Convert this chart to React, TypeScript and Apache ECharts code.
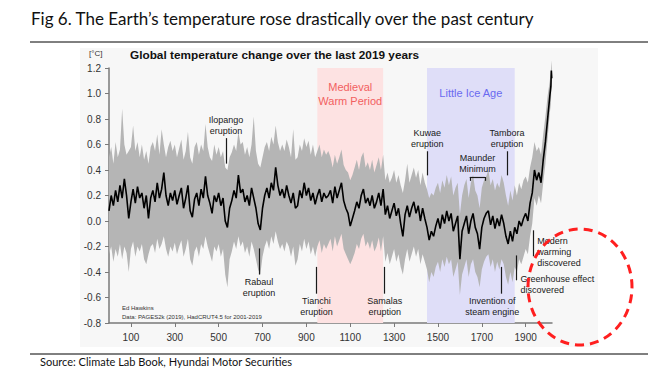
import React, { useEffect, useRef } from "react";
import * as echarts from "echarts";

// ---- data (10-year steps from year 0 to 2010, then a few final years) ----
const START_YEAR = 0;
const STEP = 10;

const median = [
  0.08, 0.2, 0.12, 0.24, 0.15, 0.28, 0.18, 0.33, 0.2, 0.02,
  0.15, 0.25, 0.14, 0.27, 0.18, 0.22, 0.1, 0.2, 0.02, 0.18,
  0.24, 0.15, 0.3, 0.18, 0.25, 0.38, 0.2, 0.12, 0.22, 0.16,
  0.24, 0.13, 0.2, 0.26, 0.1, 0.18, 0.28, 0.08, 0.03, 0.17,
  0.22, 0.12, 0.25, 0.18, 0.35, 0.2, 0.14, 0.06, 0.2, 0.15,
  0.22, 0.12, 0.18, 0.0, -0.05, 0.1, 0.16, 0.24, 0.18, 0.36,
  0.22, 0.25, 0.15, 0.2, 0.12, 0.26, 0.18, 0.1, -0.02, -0.07,
  0.1, 0.2, 0.26, 0.18, 0.3, 0.24, 0.42, 0.28, 0.2, 0.25,
  0.18, 0.28, 0.2, 0.14, 0.22, 0.1, 0.12, 0.24, 0.18, 0.3,
  0.2, 0.26, 0.16, 0.22, 0.13, 0.2, 0.25, 0.15, 0.22, 0.18,
  0.2, 0.24, 0.14, 0.27, 0.18, 0.24, 0.3, 0.16, 0.1, 0.06,
  -0.04, 0.02, 0.08, 0.15, 0.1, 0.2, 0.25, 0.14, 0.18, 0.12,
  0.2, 0.1, 0.15, 0.22, 0.12, 0.25, 0.05, 0.12, 0.02, 0.08,
  0.14, 0.04, 0.1, -0.02, -0.12, 0.05, 0.12, 0.03, 0.1, 0.15,
  0.06, 0.12, 0.0, 0.1, 0.02, -0.05, -0.15, -0.08, -0.12, -0.04,
  0.02, -0.06, 0.05, -0.02, 0.08, 0.0, 0.06, -0.08, -0.02, 0.04,
  -0.3, -0.08, -0.02, 0.04, -0.1, 0.0, 0.06, -0.05, -0.1, -0.22,
  -0.05, 0.02, 0.06, 0.08, -0.03, 0.04, -0.06, 0.02, -0.04, 0.05,
  -0.02, -0.12, -0.18, -0.08, -0.16, -0.05, -0.1, 0.0, -0.04, 0.02,
  0.06, 0.0, 0.14, 0.22, 0.4, 0.32, 0.38, 0.3, 0.48, 0.62, 0.8, 0.98,
];

const upper = [
  0.5, 0.58, 0.45, 0.62, 0.5, 0.56, 0.88, 0.6, 0.52, 0.55,
  0.58, 0.75, 0.55, 0.62, 0.5, 0.6, 0.48, 0.55, 0.45, 0.58,
  0.62, 0.55, 0.68, 0.52, 0.72, 0.6, 0.5, 0.58, 0.63, 0.55,
  0.6, 0.5, 0.57, 0.64, 0.48, 0.55, 0.7, 0.5, 0.45, 0.58,
  0.62, 0.52, 0.6, 0.55, 0.76, 0.58, 0.5, 0.47, 0.6, 0.52,
  0.58, 0.5, 0.55, 0.42, 0.4, 0.5, 0.54, 0.6, 0.55, 0.7,
  0.6, 0.62, 0.52, 0.58, 0.5, 0.6, 0.82, 0.55, 0.45, 0.42,
  0.5, 0.58, 0.62, 0.55, 0.66, 0.6, 0.75, 0.62, 0.55, 0.6,
  0.55, 0.64, 0.58, 0.5, 0.72, 0.48, 0.5, 0.6, 0.55, 0.65,
  0.58, 0.63, 0.52, 0.6, 0.5, 0.55, 0.6, 0.5, 0.56, 0.52,
  0.55, 0.5, 0.42, 0.52, 0.45, 0.5, 0.56, 0.44, 0.4, 0.38,
  0.32, 0.36, 0.42, 0.48, 0.4, 0.5, 0.54, 0.42, 0.46, 0.4,
  0.48, 0.38, 0.44, 0.5, 0.4, 0.52, 0.32, 0.38, 0.3, 0.34,
  0.4, 0.3, 0.36, 0.28, 0.22, 0.32, 0.45, 0.3, 0.36, 0.42,
  0.34, 0.4, 0.28, 0.38, 0.3, 0.25, 0.18, 0.22, 0.2, 0.26,
  0.3, 0.22, 0.32, 0.26, 0.36, 0.28, 0.35, 0.2, 0.26, 0.3,
  0.05, 0.2, 0.28, 0.33, 0.18, 0.3, 0.36, 0.24, 0.2, 0.1,
  0.26, 0.32, 0.35, 0.4, 0.28, 0.33, 0.24, 0.3, 0.26, 0.36,
  0.3, 0.2, 0.12, 0.24, 0.16, 0.28, 0.2, 0.3, 0.25, 0.32,
  0.35, 0.3, 0.42, 0.5, 0.62, 0.55, 0.58, 0.52, 0.68, 0.82, 0.98, 1.1,
];

const lower = [
  -0.26, -0.2, -0.32, -0.22, -0.28, -0.18, -0.3, -0.2, -0.25, -0.4,
  -0.22, -0.16, -0.28, -0.2, -0.24, -0.18, -0.3, -0.34, -0.26, -0.2,
  -0.18, -0.25, -0.14, -0.22, -0.18, -0.12, -0.22, -0.28, -0.2, -0.24,
  -0.17, -0.26, -0.2, -0.15, -0.28, -0.22, -0.14, -0.3, -0.35, -0.24,
  -0.2, -0.28, -0.18, -0.22, -0.12, -0.2, -0.26, -0.32, -0.2, -0.24,
  -0.18, -0.28, -0.22, -0.42, -0.52, -0.3, -0.24, -0.16, -0.22, -0.12,
  -0.2, -0.16, -0.25, -0.2, -0.28, -0.16, -0.22, -0.3, -0.38, -0.42,
  -0.28, -0.2, -0.15, -0.22, -0.12, -0.18, -0.08, -0.16, -0.22, -0.18,
  -0.24, -0.16, -0.2, -0.28, -0.2, -0.35, -0.3, -0.18, -0.24, -0.14,
  -0.22, -0.16, -0.26, -0.2, -0.28, -0.2, -0.15, -0.25, -0.18, -0.22,
  -0.18, -0.14, -0.24, -0.12, -0.2, -0.15, -0.1, -0.22, -0.26, -0.3,
  -0.34, -0.3, -0.25, -0.18, -0.22, -0.14, -0.1, -0.2, -0.16, -0.22,
  -0.15, -0.24, -0.2, -0.13, -0.24, -0.12, -0.32, -0.25, -0.34, -0.28,
  -0.22, -0.32, -0.26, -0.36, -0.42, -0.3, -0.22, -0.32, -0.26, -0.2,
  -0.28, -0.22, -0.34, -0.26, -0.32, -0.38, -0.48, -0.4, -0.44, -0.36,
  -0.32, -0.4, -0.3, -0.36, -0.28, -0.34, -0.3, -0.44, -0.38, -0.32,
  -0.58, -0.42, -0.36, -0.3, -0.44, -0.34, -0.3, -0.4, -0.44, -0.52,
  -0.38, -0.32, -0.28, -0.26, -0.36, -0.3, -0.4, -0.32, -0.38, -0.3,
  -0.34, -0.44, -0.5, -0.4, -0.48, -0.36, -0.4, -0.3, -0.34, -0.28,
  -0.22, -0.26, -0.12, -0.02, 0.18, 0.12, 0.2, 0.14, 0.3, 0.45, 0.65, 0.85,
];

const tailYears = [2015, 2017, 2019];
const tailMedian = [1.06, 1.18, 1.12];
const tailUpper = [1.18, 1.26, 1.2];
const tailLower = [0.92, 1.05, 1.0];

const xTickValues = [100, 300, 500, 700, 900, 1100, 1300, 1500, 1700, 1900];
const yTickValues = [-0.8, -0.6, -0.4, -0.2, 0.0, 0.2, 0.4, 0.6, 0.8, 1.0, 1.2];

const periodNames = ["Medieval\nWarm Period", "Little Ice Age"];
const periodFrom = [950, 1450];
const periodTo = [1250, 1850];

// vertical event markers: year, top value, bottom value
const eventYears = [535, 684, 946, 1257, 1453, 1815, 1789, 1859, 1935];
const eventTop = [0.65, -0.215, -0.36, -0.36, 0.547, 0.547, -0.36, -0.27, -0.073];
const eventBottom = [0.45, -0.42, -0.57, -0.57, 0.358, 0.358, -0.57, -0.465, -0.277];

// event labels: text, anchor year, anchor value, placement
const labelTexts = [
  "Ilopango\neruption",
  "Rabaul\neruption",
  "Tianchi\neruption",
  "Samalas\neruption",
  "Kuwae\neruption",
  "Tambora\neruption",
  "Maunder\nMinimum",
  "Invention of\nsteam engine",
  "Greenhouse effect\ndiscovered",
  "Modern\nwarming\ndiscovered",
];
const labelYears = [534, 684, 946, 1257, 1451, 1815, 1680, 1748, 1874, 1950];
const labelValues = [0.748, -0.52, -0.67, -0.67, 0.65, 0.65, 0.45, -0.67, -0.5, -0.243];
const labelLeftAligned = [false, false, false, false, false, false, false, false, true, true];

// Maunder Minimum bracket
const maunderFrom = 1645;
const maunderTo = 1715;
const maunderTop = 0.345;
const maunderFoot = 0.315;

export default function App() {
  const ref = useRef<HTMLDivElement>(null);

  useEffect(() => {
    if (!ref.current) return;
    const chart = echarts.init(ref.current, undefined, { renderer: "svg" });

    const years: number[] = median.map((_, i) => START_YEAR + i * STEP).concat(tailYears);
    const medAll = median.concat(tailMedian);
    const upAll = upper.concat(tailUpper);
    const loAll = lower.concat(tailLower);
    const linePoints = years.map((y, i) => [y, medAll[i]]);

    const chartFont = "Liberation Sans";

    const markLines: any[] = eventYears.map((y, i) => [
      { coord: [y, eventTop[i]] },
      { coord: [y, eventBottom[i]] },
    ]);
    markLines.push(
      [{ coord: [maunderFrom, maunderTop] }, { coord: [maunderTo, maunderTop] }],
      [{ coord: [maunderFrom, maunderTop] }, { coord: [maunderFrom, maunderFoot] }],
      [{ coord: [maunderTo, maunderTop] }, { coord: [maunderTo, maunderFoot] }]
    );

    const markPoints = labelTexts.map((t, i) => ({
      coord: [labelYears[i], labelValues[i]],
      symbol: "circle",
      symbolSize: 1,
      itemStyle: { color: "rgba(0,0,0,0)" },
      label: {
        show: true,
        formatter: t,
        position: labelLeftAligned[i] ? "right" : "inside",
        distance: 0,
        align: labelLeftAligned[i] ? "left" : "center",
        color: "#1a1a1a",
        fontSize: 9,
        lineHeight: 11,
        fontFamily: chartFont,
      },
    }));

    const periodColors = ["#fde2e2", "#dfdef8"];
    const periodTextColors = ["#f26060", "#6a6af0"];
    const periodDist = [12, 18];
    const markAreas = periodNames.map((n, i) => [
      {
        xAxis: periodFrom[i],
        yAxis: 1.2,
        itemStyle: { color: periodColors[i] },
        label: {
          show: true,
          formatter: n,
          position: "insideTop",
          distance: periodDist[i],
          color: periodTextColors[i],
          fontSize: 11,
          lineHeight: 14,
          fontFamily: chartFont,
        },
      },
      { xAxis: periodTo[i], yAxis: -0.8 },
    ]);

    chart.setOption({
      animation: false,
      grid: { left: 109, right: 112, top: 68, bottom: 54 },
      xAxis: {
        type: "value",
        min: 0,
        max: 2020,
        splitLine: { show: false },
        axisLine: { show: true, onZero: false, lineStyle: { color: "#7a7a7a", width: 1.5 } },
        axisTick: { show: true, customValues: xTickValues, length: 4, lineStyle: { color: "#7a7a7a" } },
        axisLabel: {
          customValues: xTickValues,
          color: "#333",
          fontSize: 10,
          fontFamily: chartFont,
          margin: 9,
          formatter: (v: number) => String(v),
        },
      },
      yAxis: {
        type: "value",
        min: -0.8,
        max: 1.2,
        interval: 0.2,
        splitLine: { show: false },
        axisLine: { show: true, onZero: false, lineStyle: { color: "#7a7a7a", width: 1.5 } },
        axisTick: { show: true, length: 4, lineStyle: { color: "#7a7a7a" } },
        axisLabel: {
          color: "#333",
          fontSize: 10,
          fontFamily: chartFont,
          margin: 8,
          formatter: (v: number) => {
            const near = yTickValues.find((t) => Math.abs(t - v) < 1e-6);
            return near === undefined ? "" : near.toFixed(1);
          },
        },
      },
      graphic: [
        {
          type: "rect",
          z: -10,
          shape: { x: 80, y: 48, width: 518, height: 299 },
          style: { fill: "#f7f7f7" },
          silent: true,
        },
        {
          type: "text",
          left: 31,
          top: 10,
          style: {
            text: "Fig 6. The Earth\u2019s temperature rose drastically over the past century",
            fontFamily: "Lato",
            fontSize: 17,
            fill: "#111",
          },
        },
        {
          type: "line",
          shape: { x1: 30, y1: 42, x2: 648, y2: 42 },
          style: { stroke: "#000", lineWidth: 1 },
        },
        {
          type: "text",
          left: 130,
          top: 49,
          style: {
            text: "Global temperature change over the last 2019 years",
            fontFamily: chartFont,
            fontWeight: "bold",
            fontSize: 11.8,
            fill: "#111",
          },
        },
        {
          type: "text",
          left: 89,
          top: 49,
          style: { text: "[\u00b0C]", fontFamily: chartFont, fontSize: 8, fill: "#333" },
        },
        {
          type: "text",
          left: 122,
          top: 303,
          style: {
            text: "Ed Hawkins\nData: PAGES2k (2019), HadCRUT4.5 for 2001-2019",
            fontFamily: chartFont,
            fontSize: 6,
            lineHeight: 9,
            fill: "#333",
          },
        },
        {
          type: "ellipse",
          z: 100,
          shape: { cx: 580, cy: 287, rx: 52, ry: 58 },
          style: { fill: "none", stroke: "#ff1f1f", lineWidth: 3, lineDash: [9, 6] },
        },
        {
          type: "line",
          shape: { x1: 30, y1: 354, x2: 648, y2: 354 },
          style: { stroke: "#000", lineWidth: 1 },
        },
        {
          type: "text",
          left: 40,
          top: 356,
          style: {
            text: "Source: Climate Lab Book, Hyundai Motor Securities",
            fontFamily: "Lato",
            fontSize: 11,
            fill: "#111",
          },
        },
      ],
      series: [
        {
          type: "custom",
          silent: true,
          z: 2,
          data: [[0, 0]],
          renderItem: (_params: any, api: any) => {
            const pts: number[][] = [];
            for (let i = 0; i < years.length; i++) pts.push(api.coord([years[i], upAll[i]]));
            for (let i = years.length - 1; i >= 0; i--) pts.push(api.coord([years[i], loAll[i]]));
            return { type: "polygon", shape: { points: pts }, style: { fill: "#b5b5b5" } };
          },
        },
        {
          type: "line",
          z: 3,
          data: linePoints,
          showSymbol: false,
          silent: true,
          lineStyle: { color: "#000", width: 1.6 },
          markArea: { silent: true, data: markAreas },
          markLine: {
            silent: true,
            symbol: ["none", "none"],
            label: { show: false },
            lineStyle: { color: "#1a1a1a", width: 1.2, type: "solid" },
            data: markLines,
          },
          markPoint: { silent: true, data: markPoints },
        },
      ],
    });

    return () => chart.dispose();
  }, []);

  return (
    <div
      ref={ref}
      style={{ position: "fixed", left: 0, top: 0, width: 664, height: 377, background: "#fff" }}
    />
  );
}
